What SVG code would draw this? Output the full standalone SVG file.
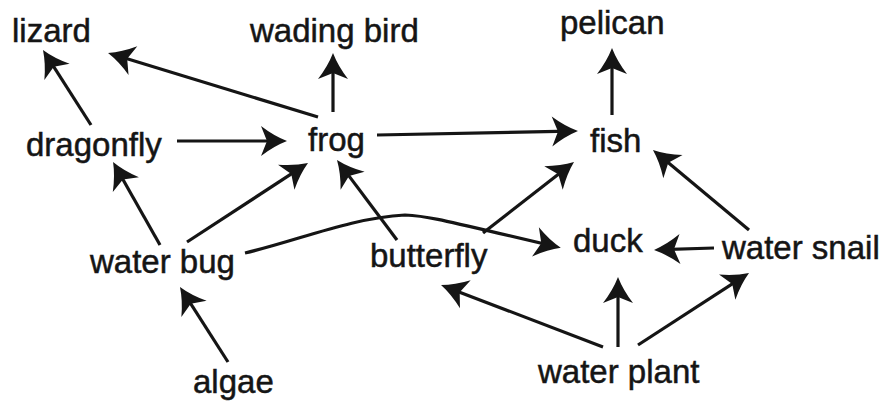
<svg xmlns="http://www.w3.org/2000/svg" width="886" height="402" viewBox="0 0 886 402">
<style>
.lbl{font-family:"Liberation Sans",Arial,sans-serif;font-size:33px;fill:#151515;stroke:#151515;stroke-width:0.5}
.e{fill:none;stroke:#151515;stroke-width:3.2;marker-end:url(#ah)}
</style>
<defs>
<marker id="ah" markerUnits="userSpaceOnUse" markerWidth="40" markerHeight="40" refX="0" refY="0" orient="auto" overflow="visible">
<path d="M8,0 Q-5,-5 -18,-15 L-12,0 L-18,15 Q-5,5 8,0 Z" fill="#151515"/>
</marker>
</defs>
<rect width="886" height="402" fill="#fff"/>
<g id="connectors">
<path class="e" d="M91,125 L47.3,56.7"/>
<path class="e" d="M318,117 L115.7,55.3"/>
<path class="e" d="M333,112 L333,61"/>
<path class="e" d="M177,141 L279,141"/>
<path class="e" d="M377,135 L570,131.2"/>
<path class="e" d="M612,115 L612,56"/>
<path class="e" d="M160,245 L117,169"/>
<path class="e" d="M187,242 L301.3,167.4"/>
<path class="e" d="M397,240 L341.8,166.4"/>
<path class="e" d="M245,253 C300,240 350,218 405,215 C430,216 450,222 553,246"/>
<path class="e" d="M483,233 L567.7,166.9"/>
<path class="e" d="M749,230 L659.1,155.1"/>
<path class="e" d="M714,248 L662,249.7"/>
<path class="e" d="M603,347 L448.5,287.9"/>
<path class="e" d="M618,347 L618,285"/>
<path class="e" d="M638,345 L742.3,277.4"/>
<path class="e" d="M228,362 L184.3,293.7"/>
</g>
<g id="lizard"><text class="lbl" x="12" y="42">lizard</text></g>
<g id="wading-bird"><text class="lbl" x="250" y="42">wading bird</text></g>
<g id="pelican"><text class="lbl" x="560" y="34">pelican</text></g>
<g id="dragonfly"><text class="lbl" x="26" y="156">dragonfly</text></g>
<g id="frog"><text class="lbl" x="308" y="151">frog</text></g>
<g id="fish"><text class="lbl" x="590" y="152">fish</text></g>
<g id="water-bug"><text class="lbl" x="90" y="273">water bug</text></g>
<g id="butterfly"><text class="lbl" x="370" y="267">butterfly</text></g>
<g id="duck"><text class="lbl" x="573" y="252">duck</text></g>
<g id="water-snail"><text class="lbl" x="722" y="259">water snail</text></g>
<g id="algae"><text class="lbl" x="193" y="393">algae</text></g>
<g id="water-plant"><text class="lbl" x="538" y="383">water plant</text></g>
</svg>
